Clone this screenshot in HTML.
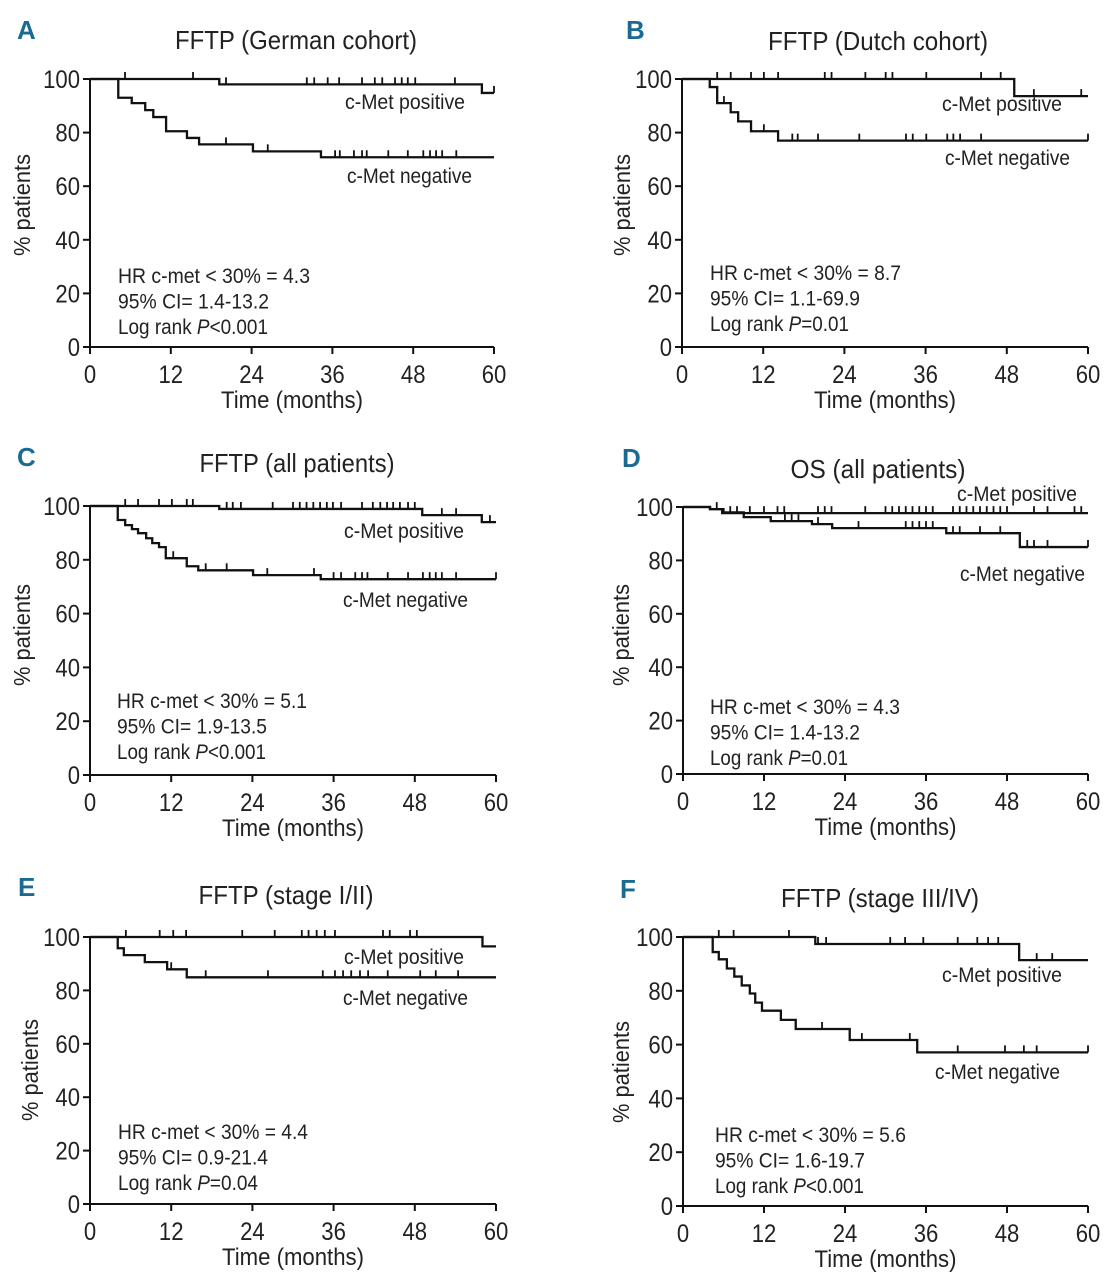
<!DOCTYPE html>
<html><head><meta charset="utf-8">
<style>
html,body{margin:0;padding:0;background:#fff;}
svg{display:block;}
text{font-family:"Liberation Sans Narrow","Liberation Sans",sans-serif;fill:#222;}
</style></head>
<body>
<svg id="fig" width="1108" height="1280" viewBox="0 0 1108 1280" xmlns="http://www.w3.org/2000/svg"></svg>
<script>
// ---------- data (time in months, survival %) ----------
const xTicks=[0,12,24,36,48,60];
const yTicks=[0,20,40,60,80,100];

const A_posT=[19.2,58.2];            const A_posS=[98,94.8];
const A_posC=[5.2,15.3,20.2,32.2,33.3,35.3,37,40.4,42.3,43.4,45.3,46.3,47.2,48.3,54.2,60];
const A_negT=[4.2,6.2,8.2,9.4,11.3,14.4,16.2,24.2,34.3];
const A_negS=[93,91,88.4,85.8,80.5,78,75.6,73,70.8];
const A_negC=[20.2,26.4,36.4,37.1,39.2,40.4,41.1,44.3,47.2,49.5,50.5,51.4,52.3,54.4];

const B_posT=[49.1];                 const B_posS=[93.6];
const B_posC=[5.2,7.2,10.2,12.1,14.2,21.1,22.1,27.1,30.1,31.1,36.1,44.2,47.1,52,59];
const B_negT=[4.1,5.2,7.2,8.3,10.2,14.2];
const B_negS=[97,91,87.6,84.2,80.5,77];
const B_negC=[6.2,12.1,16.3,17.1,20.1,26.2,33.1,34.1,36.1,39.2,40.1,41.1,44.2,60];

const C_posT=[19.1,49.1,57.9];       const C_posS=[98.9,96.6,94];
const C_posC=[5.2,7.1,10.2,12.1,14.3,15.2,20.2,21.1,22.3,27,30,31,32,33,34,35,35.9,37.1,40.2,41.8,42.9,43.9,44.8,45.8,47,48,52,54.1,59.1];
const C_negT=[4.1,5.2,6.2,7.1,8.3,9.2,10.2,11.2,14.3,16,24.1,34.1];
const C_negS=[94.8,92.9,91.4,89.9,88,86.2,84.7,80.6,77.6,76.1,74.3,72.8];
const C_negC=[12.3,17.1,20.2,26.2,33.1,36,37.1,39.2,40.2,41,44,47,49.2,50.2,51.1,52,54.1,60];

const D_posT=[4.0,5.8];              const D_posS=[99.2,97.7];
const D_posC=[5,7,8,9.9,12,14,15,20,21,22,27,30,31,32,33,34,35,36,37,40,41,42,43,44,45,46,47,48,52,54,58,59];
const D_negT=[4.0,6.0,9.0,13,19.1,22.1,39,49.9];
const D_negS=[99.2,98,96.2,94.7,93.6,92.1,90.2,85];
const D_negC=[15.1,16.1,17.1,20,26,33,34,35,36,37,40,41,44,47,51,52,54,60];

const E_posT=[58];                   const E_posS=[96.5];
const E_posC=[5.3,10.3,12.3,14.2,22.5,27.3,31.3,32.3,33.5,34.7,36.2,43.3,44.3,47.3,48.3];
const E_negT=[4.1,5.0,8.1,11.4,14.3];
const E_negS=[95.8,93.2,90.6,87.9,84.9];
const E_negC=[12,17.1,26.3,34.4,36.2,37.4,38.6,39.9,41.1,44,48.8,51.1,54.4];

const F_posT=[19.6,49.8];            const F_posS=[97.4,91.4];
const F_posC=[5.3,7.5,15.7,20,21.2,30.7,32.9,35.6,40.7,43.6,45.2,46.7,52.4,54.7];
const F_negT=[4.4,5.3,6.5,7.6,8.7,9.9,10.7,11.7,14.5,16.7,24.7,34.7];
const F_negS=[94.4,91.7,88.3,85.3,82,79,75.6,72.6,69.2,65.8,61.7,57.1];
const F_negC=[20.6,26.5,33.6,40.7,47.7,50.5,52.4,60];

// ---------- layout ----------
const NS="http://www.w3.org/2000/svg";
const svg=document.getElementById('fig');
function mk(tag,attrs,parent){const e=document.createElementNS(NS,tag);for(const k in attrs)e.setAttribute(k,attrs[k]);(parent||svg).appendChild(e);return e;}

const panels=[
 {id:'a',L:'A',lx:17,ly:39,x0:90,x1:494,y0:347,y1:79,title:'FFTP (German cohort)',tx:296,ty:49,tw:242,
  ylx:30,yly:205,ann:['HR c-met < 30% = 4.3','95% CI= 1.4-13.2','0.001'],annOp:'<',ax:118,ay:283,aw:[192,151,150],
  pos:[A_posT,A_posS,A_posC],neg:[A_negT,A_negS,A_negC],plx:345,ply:109,nlx:347,nly:183},
 {id:'b',L:'B',lx:626,ly:39,x0:682,x1:1088,y0:347,y1:79,title:'FFTP (Dutch cohort)',tx:878,ty:50,tw:220,
  ylx:630,yly:205,ann:['HR c-met < 30% = 8.7','95% CI= 1.1-69.9','0.01'],annOp:'=',ax:710,ay:280,aw:[191,150,139],
  pos:[B_posT,B_posS,B_posC],neg:[B_negT,B_negS,B_negC],plx:942,ply:111,nlx:945,nly:165},
 {id:'c',L:'C',lx:17,ly:466,x0:90,x1:496,y0:775,y1:506,title:'FFTP (all patients)',tx:297,ty:472,tw:195,
  ylx:30,yly:635,ann:['HR c-met < 30% = 5.1','95% CI= 1.9-13.5','0.001'],annOp:'<',ax:117,ay:708,aw:[190,150,149],
  pos:[C_posT,C_posS,C_posC],neg:[C_negT,C_negS,C_negC],plx:344,ply:538,nlx:343,nly:607},
 {id:'d',L:'D',lx:622,ly:467,x0:683,x1:1088,y0:774,y1:507,title:'OS (all patients)',tx:878,ty:478,tw:175,
  ylx:629,yly:635,ann:['HR c-met < 30% = 4.3','95% CI= 1.4-13.2','0.01'],annOp:'=',ax:710,ay:714,aw:[190,150,138],
  pos:[D_posT,D_posS,D_posC],neg:[D_negT,D_negS,D_negC],plx:957,ply:501,nlx:960,nly:581},
 {id:'e',L:'E',lx:18,ly:896,x0:90,x1:496,y0:1204,y1:937,title:'FFTP (stage I/II)',tx:286,ty:904,tw:175,
  ylx:38,yly:1070,ann:['HR c-met < 30% = 4.4','95% CI= 0.9-21.4','0.04'],annOp:'=',ax:118,ay:1139,aw:[190,150,140],
  pos:[E_posT,E_posS,E_posC],neg:[E_negT,E_negS,E_negC],plx:344,ply:964,nlx:343,nly:1005},
 {id:'f',L:'F',lx:620,ly:898,x0:683,x1:1088,y0:1206,y1:937,title:'FFTP (stage III/IV)',tx:880,ty:907,tw:198,
  ylx:629,yly:1072,ann:['HR c-met < 30% = 5.6','95% CI= 1.6-19.7','0.001'],annOp:'<',ax:715,ay:1142,aw:[191,150,149],
  pos:[F_posT,F_posS,F_posC],neg:[F_negT,F_negS,F_negC],plx:942,ply:982,nlx:935,nly:1079}
];

function survAt(T,S,t){let s=100;for(let i=0;i<T.length;i++){if(T[i]<=t)s=S[i];}return s;}

panels.forEach(p=>{
  const g=mk('g',{});
  
  
  const xs=t=>p.x0+(t/60)*(p.x1-p.x0);
  const ys=v=>p.y0-(v/100)*(p.y0-p.y1);

  const lab=mk('text',{x:p.lx,y:p.ly,'font-size':26,'font-weight':'bold',style:'fill:#1a6a93'},g);
  lab.textContent=p.L;
  
  

  const ti=mk('text',{x:p.tx,y:p.ty,'font-size':26,'text-anchor':'middle',textLength:p.tw,lengthAdjust:'spacingAndGlyphs'},g);
  ti.textContent=p.title;
  
  

  // axes
  const ax=mk('path',{d:`M${p.x0},${p.y1} V${p.y0} H${p.x1}`,stroke:'#111','stroke-width':2,fill:'none'},g);
  
  

  yTicks.forEach(v=>{
    const y=ys(v);
    const tk=mk('line',{x1:p.x0-7,x2:p.x0,y1:y,y2:y,stroke:'#111','stroke-width':2},g);
    
    
    const tl=mk('text',{x:p.x0-10,y:y+9,'font-size':25,'text-anchor':'end',textLength:String(v).length*12.3,lengthAdjust:'spacingAndGlyphs'},g);
    tl.textContent=v;
    
    
  });
  xTicks.forEach(v=>{
    const x=xs(v);
    const tk=mk('line',{x1:x,x2:x,y1:p.y0,y2:p.y0+7,stroke:'#111','stroke-width':2},g);
    
    
    const tl=mk('text',{x:x,y:p.y0+36,'font-size':25,'text-anchor':'middle',textLength:String(v).length*12.3,lengthAdjust:'spacingAndGlyphs'},g);
    tl.textContent=v;
    
    
  });
  const xt=mk('text',{x:(p.x0+p.x1)/2,y:p.y0+61,'font-size':24,'text-anchor':'middle',textLength:142,lengthAdjust:'spacingAndGlyphs'},g);
  xt.textContent='Time (months)';
  
  
  const yt=mk('text',{x:0,y:0,'font-size':23,'text-anchor':'middle',textLength:102,lengthAdjust:'spacingAndGlyphs',transform:`translate(${p.ylx},${p.yly}) rotate(-90)`},g);
  yt.textContent='% patients';
  
  

  // curves
  [['positive',p.pos],['negative',p.neg]].forEach(([nm,[T,S,C]])=>{
    let d=`M${xs(0)},${ys(100)}`;
    for(let i=0;i<T.length;i++){d+=` H${xs(T[i])} V${ys(S[i])}`;}
    d+=` H${xs(60)}`;
    const path=mk('path',{d:d,stroke:'#111','stroke-width':2.3,fill:'none'},g);
    
    
    C.forEach(c=>{
      const y=ys(survAt(T,S,c));
      const cm=mk('line',{x1:xs(c),x2:xs(c),y1:y,y2:y-7,stroke:'#111','stroke-width':1.8},g);
      
      
    });
  });
  const pl=mk('text',{x:p.plx,y:p.ply,'font-size':21,textLength:120,lengthAdjust:'spacingAndGlyphs'},g);
  pl.textContent='c-Met positive';
  
  
  const nl=mk('text',{x:p.nlx,y:p.nly,'font-size':21,textLength:125,lengthAdjust:'spacingAndGlyphs'},g);
  nl.textContent='c-Met negative';
  
  

  // annotations
  for(let i=0;i<3;i++){
    const t=mk('text',{x:p.ax,y:p.ay+i*25.5,'font-size':21,textLength:p.aw[i],lengthAdjust:'spacingAndGlyphs'},g);
    if(i<2){t.textContent=p.ann[i];}
    else{
      const a=mk('tspan',{},t);a.textContent='Log rank ';
      const b=mk('tspan',{'font-style':'italic'},t);b.textContent='P';
      const c=mk('tspan',{},t);c.textContent=p.annOp+p.ann[2];
    }
    
    
  }
});
</script>
</body></html>
